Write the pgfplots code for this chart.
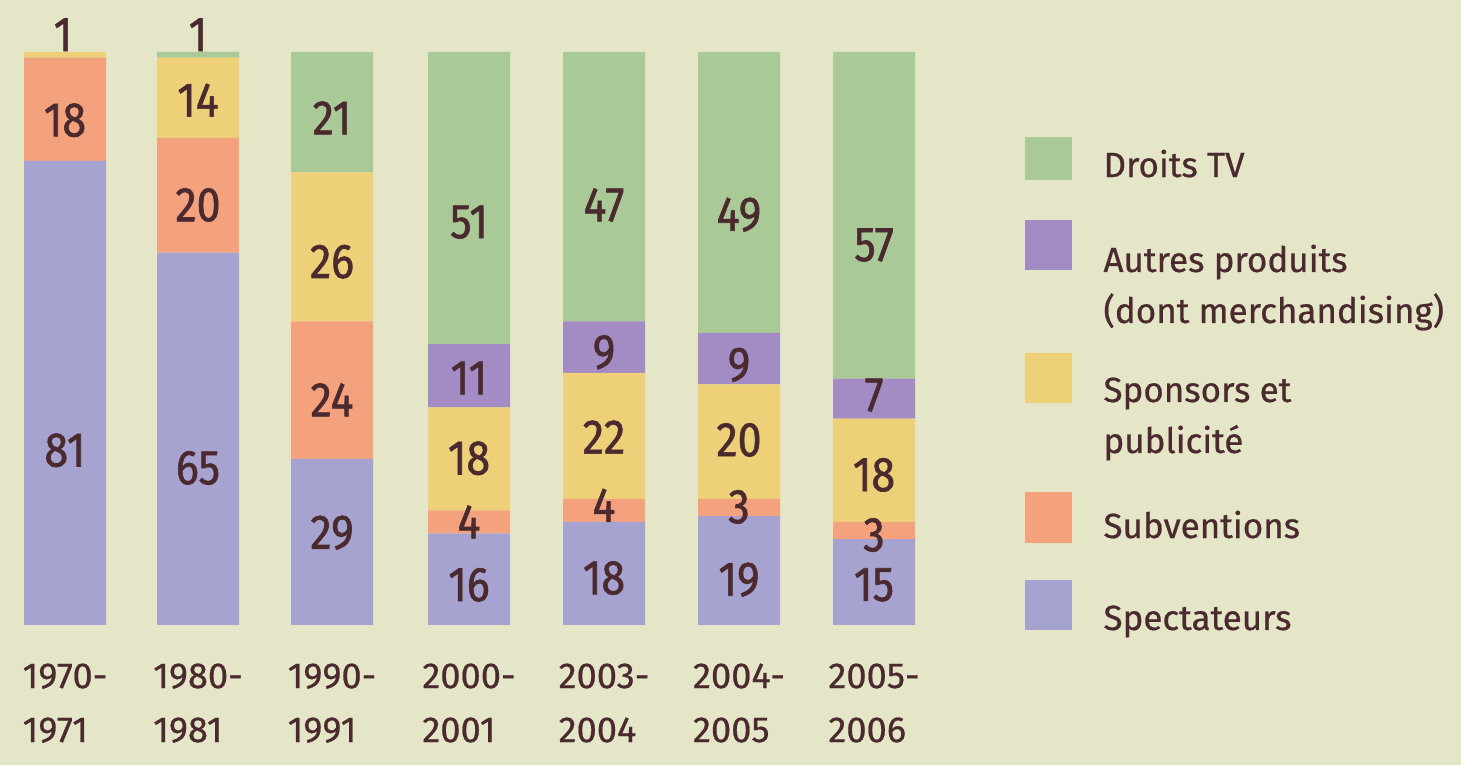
\documentclass[border=0pt]{standalone}
\usepackage{pgfplots}
\pgfplotsset{compat=1.18}
\usepackage{pgfplotstable}
\usepackage{fontspec}
\setmainfont{Fira Sans}
\newfontfamily\numfont[FakeStretch=0.88,FakeBold=1.2]{Fira Sans}
\newfontfamily\txtfont[FakeBold=0.6]{Fira Sans}
\definecolor{bg}{HTML}{E4E6C7}
\definecolor{txt}{HTML}{4A2A2E}
\definecolor{cspect}{HTML}{A7A3D1}
\definecolor{csubv}{HTML}{F4A27E}
\definecolor{cspons}{HTML}{EDD077}
\definecolor{cautres}{HTML}{A38BC3}
\definecolor{ctv}{HTML}{A9CA97}
\pgfplotstableread{
x spect subv spons autres tv
65 81 18 1 0 0
198 65 20 14 0 1
332 29 24 26 0 21
469 16 4 18 11 51
604 18 4 22 9 47
739 19 3 20 9 49
874 15 3 18 7 57
}\data
\pgfplotsset{base/.style={at={(0,0)}, anchor=south west,
  width=584.4pt, height=306pt, scale only axis,
  xmin=0, xmax=1461, ymin=-24.433, ymax=109.075,
  hide axis, clip=false}}
\begin{document}
\begin{tikzpicture}[
  lbl/.style={font=\numfont\fontsize{19.5}{19.5}\selectfont, text=txt, inner sep=0pt},
  leg/.style={font=\txtfont\fontsize{14}{17}\selectfont, text=txt, inner sep=0pt, anchor=base west},
  cat/.style={font=\txtfont\fontsize{14.5}{21.6}\selectfont, text=txt, inner sep=0pt, anchor=north, align=left}]
\fill[bg] (0,0) rectangle (584.4pt,306pt);
\begin{axis}[base, ybar stacked, bar width=82]
\addplot[fill=cspect, draw=none] table[x=x,y=spect]{\data};
\addplot[fill=csubv, draw=none] table[x=x,y=subv]{\data};
\addplot[fill=cspons, draw=none] table[x=x,y=spons]{\data};
\addplot[fill=cautres, draw=none] table[x=x,y=autres]{\data};
\addplot[fill=ctv, draw=none] table[x=x,y=tv]{\data};
\end{axis}
\begin{axis}[base]
% value labels
\node[lbl] at (axis cs:63,103.0) {1};
\node[lbl] at (axis cs:65,88.1) {18};
\node[lbl] at (axis cs:65,30.5) {81};
\node[lbl] at (axis cs:198,103.0) {1};
\node[lbl] at (axis cs:198,91.6) {14};
\node[lbl] at (axis cs:198,73.3) {20};
\node[lbl] at (axis cs:198,27.4) {65};
\node[lbl] at (axis cs:332,88.5) {21};
\node[lbl] at (axis cs:332,63.4) {26};
\node[lbl] at (axis cs:332,39.3) {24};
\node[lbl] at (axis cs:332,16.1) {29};
\node[lbl] at (axis cs:469,70.3) {51};
\node[lbl] at (axis cs:469,43.1) {11};
\node[lbl] at (axis cs:469,29.1) {18};
\node[lbl] at (axis cs:469,18.0) {4};
\node[lbl] at (axis cs:469,7.0) {16};
\node[lbl] at (axis cs:604,73.3) {47};
\node[lbl] at (axis cs:604,47.6) {9};
\node[lbl] at (axis cs:604,32.8) {22};
\node[lbl] at (axis cs:604,20.9) {4};
\node[lbl] at (axis cs:604,8.2) {18};
\node[lbl] at (axis cs:739,71.6) {49};
\node[lbl] at (axis cs:739,45.4) {9};
\node[lbl] at (axis cs:739,32.3) {20};
\node[lbl] at (axis cs:739,20.6) {3};
\node[lbl] at (axis cs:739,7.9) {19};
\node[lbl] at (axis cs:874,66.3) {57};
\node[lbl] at (axis cs:874,40.1) {7};
\node[lbl] at (axis cs:874,26.2) {18};
\node[lbl] at (axis cs:874,15.7) {3};
\node[lbl] at (axis cs:874,7.0) {15};
% category labels
\node[cat] at (axis cs:65,-6.63) {1970-\\1971};
\node[cat] at (axis cs:198,-6.63) {1980-\\1981};
\node[cat] at (axis cs:332,-6.63) {1990-\\1991};
\node[cat] at (axis cs:469,-6.63) {2000-\\2001};
\node[cat] at (axis cs:604,-6.63) {2003-\\2004};
\node[cat] at (axis cs:739,-6.63) {2004-\\2005};
\node[cat] at (axis cs:874,-6.63) {2005-\\2006};
% legend
\fill[ctv] (axis cs:1025,85.17) rectangle (axis cs:1072,77.66);
\fill[cautres] (axis cs:1025,70.68) rectangle (axis cs:1072,61.95);
\fill[cspons] (axis cs:1025,47.47) rectangle (axis cs:1072,38.74);
\fill[csubv] (axis cs:1025,23.21) rectangle (axis cs:1072,14.31);
\fill[cspect] (axis cs:1025,7.85) rectangle (axis cs:1072,-0.87);
\node[leg] at (axis cs:1103,78.18) {Droits TV};
\node[leg] at (axis cs:1103,61.61) {Autres produits};
\node[leg] at (axis cs:1103,52.71) {(dont merchandising)};
\node[leg] at (axis cs:1103,38.92) {Sponsors et};
\node[leg] at (axis cs:1103,30.02) {publicité};
\node[leg] at (axis cs:1103,15.18) {Subventions};
\node[leg] at (axis cs:1103,-0.87) {Spectateurs};
\end{axis}
\end{tikzpicture}
\end{document}
